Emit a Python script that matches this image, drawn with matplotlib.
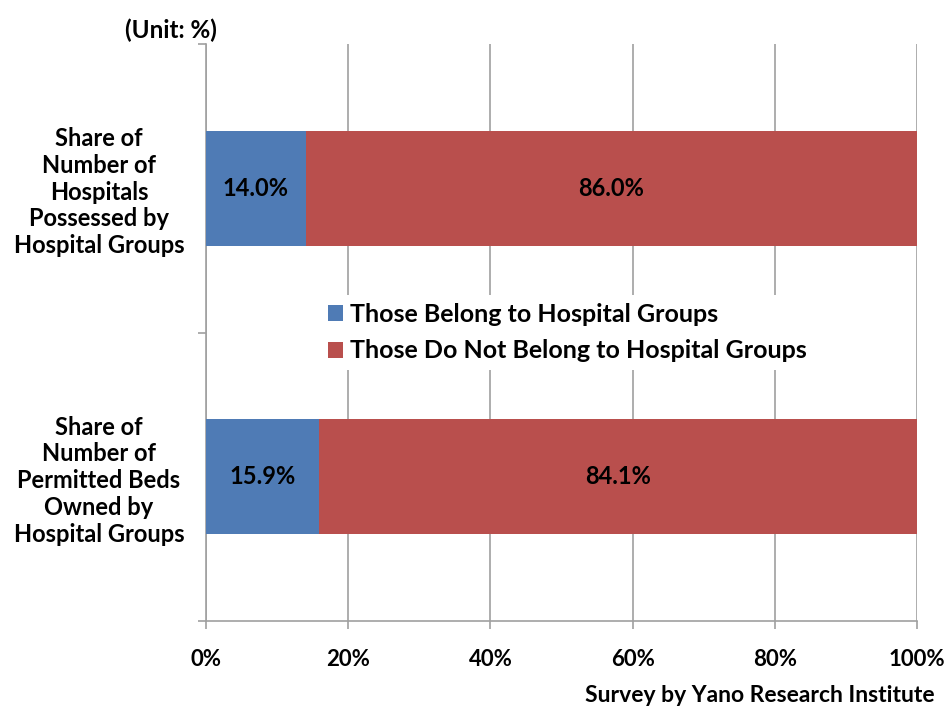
import matplotlib.pyplot as plt
import numpy as np

plt.rcParams['font.family'] = ['Lato', 'DejaVu Sans']
plt.rcParams['font.weight'] = 'bold'

categories = ['Share of\nNumber of\nHospitals\nPossessed by\nHospital Groups',
              'Share of\nNumber of\nPermitted Beds\nOwned by\nHospital Groups']
belong = [14.0, 15.9]
not_belong = [86.0, 84.1]
series_names = ['Those Belong to Hospital Groups',
                'Those Do Not Belong to Hospital Groups']
xticks = [0, 20, 40, 60, 80, 100]

blue = '#4f7bb5'
red = '#b94f4d'
grey = '#a0a0a0'

fig = plt.figure(figsize=(9.51, 7.08), dpi=100)
ax = fig.add_axes([206 / 951, 1 - 621 / 708, 711 / 951, 577 / 708])

y = np.arange(len(categories))
ax.barh(y, belong, height=0.4, color=blue, label=series_names[0], zorder=3)
ax.barh(y, not_belong, left=belong, height=0.4, color=red,
        label=series_names[1], zorder=3)

for i in range(len(categories)):
    ax.text(belong[i] / 2, y[i], f'{belong[i]:.1f}%', ha='center', va='center',
            fontsize=17, zorder=4)
    ax.text(belong[i] + not_belong[i] / 2, y[i], f'{not_belong[i]:.1f}%',
            ha='center', va='center', fontsize=17, zorder=4)

ax.set_xlim(0, 100)
ax.set_ylim(1.5, -0.5)
ax.set_xticks(xticks)
ax.set_xticklabels([f'{v}%' for v in xticks], fontsize=16)
ax.set_yticks([-0.5, 0.5, 1.5])
ax.set_yticklabels([])
ax.set_yticks(y, minor=True)
ax.set_yticklabels(categories, minor=True, fontsize=17, ha='center',
                   linespacing=1.2)
ax.tick_params(axis='y', which='minor', length=0, pad=77)
ax.tick_params(axis='y', which='major', length=6, color=grey, width=1.2)
ax.tick_params(axis='x', length=6, color=grey, width=1.2, pad=14)

ax.grid(axis='x', color=grey, linewidth=1.2, zorder=0)
for s in ['top', 'right']:
    ax.spines[s].set_visible(False)
for s in ['left', 'bottom']:
    ax.spines[s].set_color(grey)
    ax.spines[s].set_linewidth(1.2)

leg = ax.legend(loc='center', bbox_to_anchor=(0.508, 0.5), frameon=True,
                fontsize=18, handlelength=0.6, handleheight=0.6,
                handletextpad=0.3, labelspacing=0.55, borderpad=0.3)
leg.get_frame().set_facecolor('white')
leg.get_frame().set_edgecolor('none')
leg.get_frame().set_alpha(1)
leg.set_zorder(5)

fig.text(125 / 951, 1 - 30 / 708, '(Unit: %)', fontsize=17.5, va='center')
fig.text(935 / 951, 1 - 695 / 708, 'Survey by Yano Research Institute',
         fontsize=16.5, ha='right', va='center')

fig.savefig('out.png', dpi=100)
